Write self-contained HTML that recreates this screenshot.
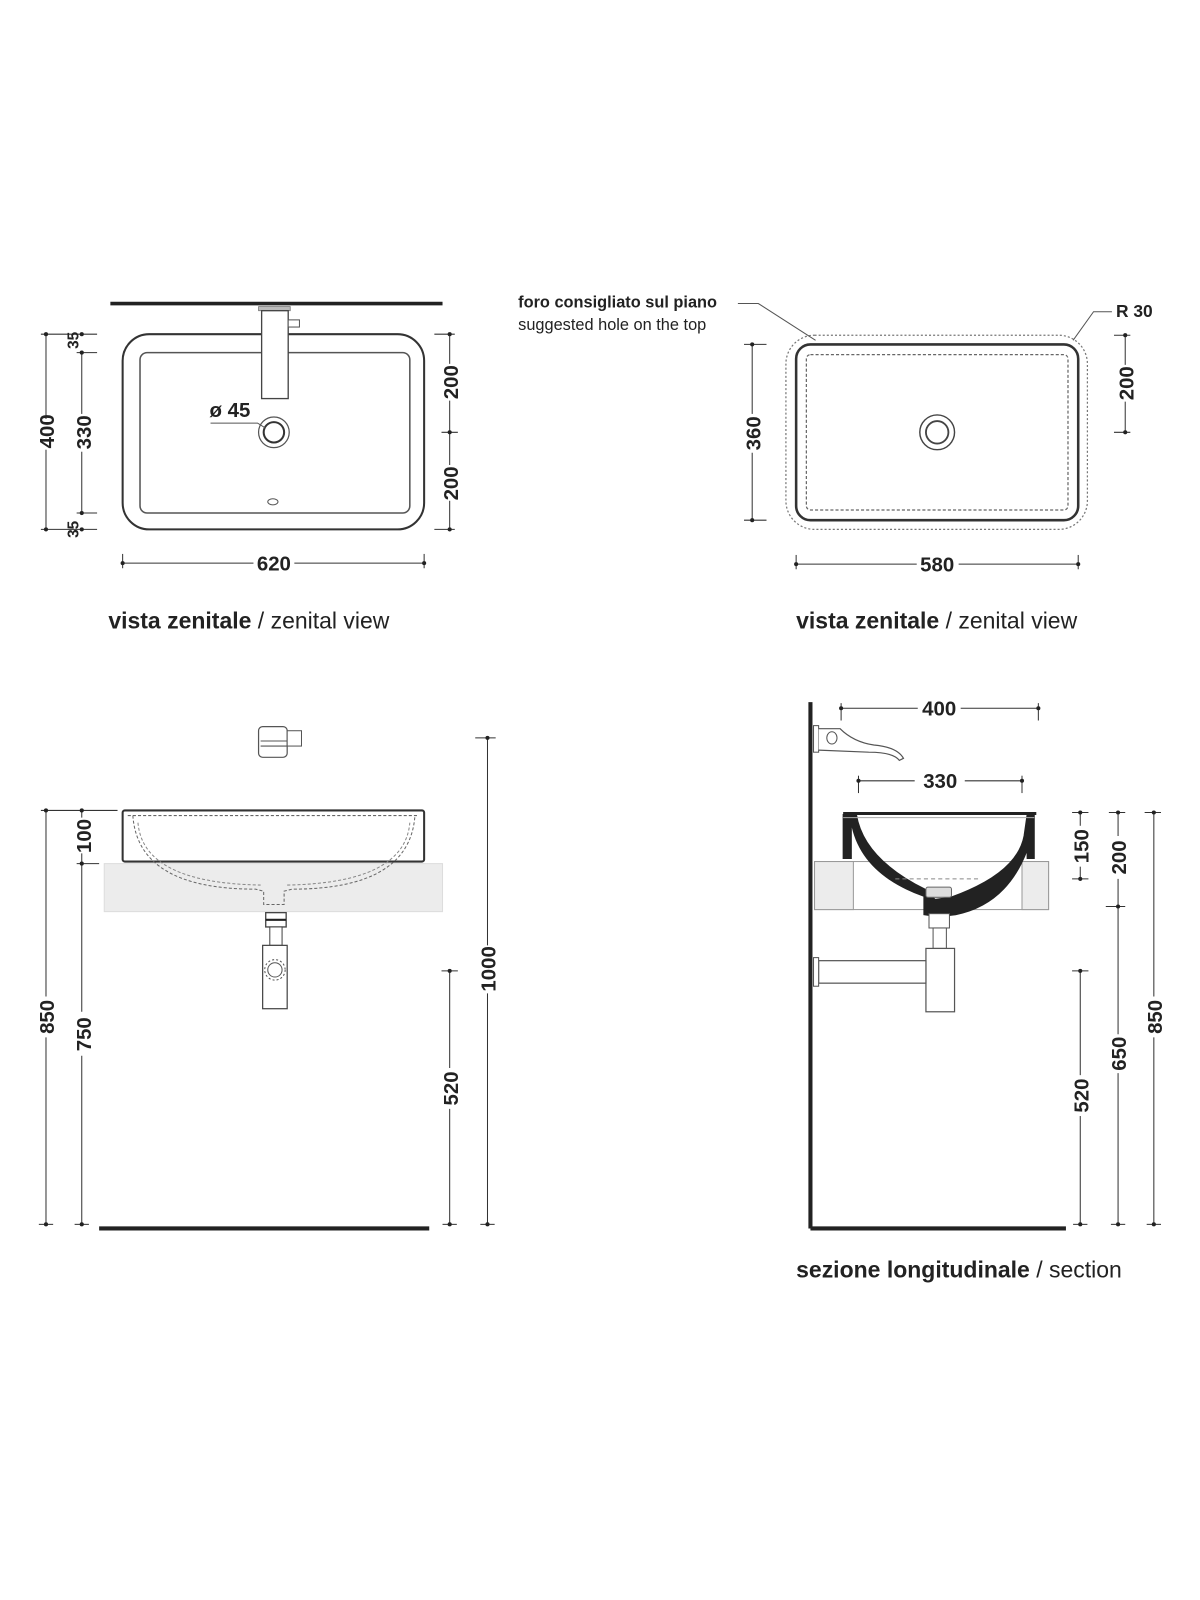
<!DOCTYPE html>
<html><head><meta charset="utf-8"><style>
html,body{margin:0;padding:0;background:#fff;}
svg{display:block;}
text{font-family:"Liberation Sans Narrow","Liberation Sans",sans-serif;fill:#222;}
.n{font-weight:bold;font-size:20px;}
.cap{font-size:22.5px;}
</style></head><body>
<svg width="1200" height="1600" viewBox="0 0 1200 1600" xmlns="http://www.w3.org/2000/svg">
<g transform="scale(1.022)" stroke-linecap="butt">
<!-- ===== TOP LEFT ===== -->
<line x1="108" y1="297" x2="433" y2="297" stroke="#222" stroke-width="3.5"/>
<rect x="120" y="327" width="295" height="191" rx="26" fill="none" stroke="#333" stroke-width="2"/>
<rect x="137" y="345" width="264" height="157" rx="7" fill="none" stroke="#555" stroke-width="1.5"/>
<rect x="253" y="300" width="31" height="4" fill="#bbb" stroke="#777" stroke-width="0.8"/>
<rect x="256" y="304" width="26" height="86" fill="#fff" stroke="#444" stroke-width="1.3"/>
<rect x="282" y="313" width="11" height="7" fill="#fff" stroke="#555" stroke-width="1"/>
<circle cx="268" cy="423" r="15" fill="none" stroke="#555" stroke-width="1.2"/>
<circle cx="268" cy="423" r="10" fill="none" stroke="#333" stroke-width="2"/>
<ellipse cx="267" cy="491" rx="5" ry="3" fill="none" stroke="#555" stroke-width="1"/>
<path d="M206 414 L252 414 L260 419" fill="none" stroke="#555" stroke-width="1"/>
<text class="n" x="205" y="408">ø 45</text>
<g stroke="#333" stroke-width="1" fill="none">
<line x1="45" y1="327" x2="45" y2="410"/><line x1="45" y1="440" x2="45" y2="518"/>
<line x1="80" y1="345" x2="80" y2="405"/><line x1="80" y1="442" x2="80" y2="502"/>
<line x1="40" y1="327" x2="95" y2="327"/><line x1="40" y1="518" x2="95" y2="518"/>
<line x1="75" y1="345" x2="95" y2="345"/><line x1="75" y1="502" x2="95" y2="502"/>
<line x1="440" y1="327" x2="440" y2="356"/><line x1="440" y1="392" x2="440" y2="455"/><line x1="440" y1="490" x2="440" y2="518"/>
<line x1="425" y1="327" x2="445" y2="327"/><line x1="432" y1="423" x2="448" y2="423"/><line x1="425" y1="518" x2="445" y2="518"/>
<line x1="120" y1="551" x2="248" y2="551"/><line x1="288" y1="551" x2="415" y2="551"/>
<line x1="120" y1="542" x2="120" y2="556"/><line x1="415" y1="542" x2="415" y2="556"/>
</g>
<g fill="#222"><circle cx="45" cy="327" r="2"/><circle cx="45" cy="518" r="2"/><circle cx="80" cy="327" r="2"/><circle cx="80" cy="345" r="2"/><circle cx="80" cy="502" r="2"/><circle cx="80" cy="518" r="2"/><circle cx="440" cy="327" r="2"/><circle cx="440" cy="423" r="2"/><circle cx="440" cy="518" r="2"/><circle cx="120" cy="551" r="2"/><circle cx="415" cy="551" r="2"/></g>
<text class="n" transform="translate(53,422) rotate(-90)" text-anchor="middle">400</text>
<text class="n" transform="translate(89,423) rotate(-90)" text-anchor="middle">330</text>
<text class="n" transform="translate(77,333) rotate(-90)" text-anchor="middle" style="font-size:15px">35</text>
<text class="n" transform="translate(77,518) rotate(-90)" text-anchor="middle" style="font-size:15px">35</text>
<text class="n" transform="translate(448,374) rotate(-90)" text-anchor="middle">200</text>
<text class="n" transform="translate(448,473) rotate(-90)" text-anchor="middle">200</text>
<text class="n" x="268" y="558" text-anchor="middle">620</text>
<text class="cap" x="106" y="615"><tspan font-weight="bold">vista zenitale</tspan> / zenital view</text>

<!-- ===== TOP RIGHT ===== -->
<rect x="769" y="328" width="295" height="190" rx="28" fill="none" stroke="#777" stroke-width="1.2" stroke-dasharray="2 2"/>
<rect x="779" y="337" width="276" height="172" rx="14" fill="none" stroke="#333" stroke-width="2.5"/>
<rect x="789" y="347" width="256" height="152" rx="4" fill="none" stroke="#666" stroke-width="1.2" stroke-dasharray="3 2"/>
<circle cx="917" cy="423" r="17" fill="none" stroke="#444" stroke-width="1.4"/>
<circle cx="917" cy="423" r="11" fill="none" stroke="#444" stroke-width="1.8"/>
<text x="507" y="301" style="font-weight:bold;font-size:16px">foro consigliato sul piano</text>
<text x="507" y="323" style="font-size:16px">suggested hole on the top</text>
<path d="M722 297 L742 297 L798 333" fill="none" stroke="#555" stroke-width="1"/>
<text x="1092" y="310" style="font-weight:bold;font-size:17px">R 30</text>
<path d="M1088 305 L1070 305 L1050 333" fill="none" stroke="#555" stroke-width="1"/>
<g stroke="#333" stroke-width="1" fill="none">
<line x1="736" y1="337" x2="736" y2="405"/><line x1="736" y1="443" x2="736" y2="509"/>
<line x1="728" y1="337" x2="750" y2="337"/><line x1="728" y1="509" x2="750" y2="509"/>
<line x1="1101" y1="328" x2="1101" y2="357"/><line x1="1101" y1="393" x2="1101" y2="423"/>
<line x1="1090" y1="328" x2="1106" y2="328"/><line x1="1090" y1="423" x2="1106" y2="423"/>
<line x1="779" y1="552" x2="897" y2="552"/><line x1="938" y1="552" x2="1055" y2="552"/>
<line x1="779" y1="543" x2="779" y2="557"/><line x1="1055" y1="543" x2="1055" y2="557"/>
</g>
<g fill="#222"><circle cx="736" cy="337" r="2"/><circle cx="736" cy="509" r="2"/><circle cx="1101" cy="328" r="2"/><circle cx="1101" cy="423" r="2"/><circle cx="779" cy="552" r="2"/><circle cx="1055" cy="552" r="2"/></g>
<text class="n" transform="translate(744,424) rotate(-90)" text-anchor="middle">360</text>
<text class="n" transform="translate(1109,375) rotate(-90)" text-anchor="middle">200</text>
<text class="n" x="917" y="559" text-anchor="middle">580</text>
<text class="cap" x="779" y="615"><tspan font-weight="bold">vista zenitale</tspan> / zenital view</text>

<!-- ===== BOTTOM LEFT ===== -->
<rect x="253" y="711" width="28" height="30" rx="4" fill="#fff" stroke="#555" stroke-width="1.2"/>
<rect x="281" y="715" width="14" height="15" fill="#fff" stroke="#555" stroke-width="1"/>
<line x1="255" y1="725" x2="281" y2="725" stroke="#555"/><line x1="255" y1="730" x2="281" y2="730" stroke="#555"/>
<rect x="102" y="845" width="331" height="47" fill="#ececec" stroke="#ddd" stroke-width="1"/>
<rect x="120" y="793" width="295" height="50" rx="2" fill="none" stroke="#333" stroke-width="2"/>
<path d="M130 798 Q135 870 250 870 L258 872 L258 885 L278 885 L278 872 L286 870 Q401 870 406 798" fill="none" stroke="#666" stroke-width="1" stroke-dasharray="3 2"/>
<path d="M125 798 L410 798" fill="none" stroke="#666" stroke-width="1" stroke-dasharray="3 2"/>
<path d="M135 805 Q140 864 255 866 M281 866 Q396 864 401 805" fill="none" stroke="#888" stroke-width="1" stroke-dasharray="3 2"/>
<rect x="260" y="893" width="20" height="14" fill="#fff" stroke="#444" stroke-width="1.3"/>
<line x1="260" y1="900" x2="280" y2="900" stroke="#222" stroke-width="2"/>
<rect x="264" y="907" width="12" height="18" fill="#fff" stroke="#444" stroke-width="1"/>
<rect x="257" y="925" width="24" height="62" fill="#fff" stroke="#444" stroke-width="1.2"/>
<circle cx="269" cy="949" r="10" fill="none" stroke="#555" stroke-dasharray="2 2"/>
<circle cx="269" cy="949" r="7" fill="none" stroke="#555"/>
<line x1="97" y1="1202" x2="420" y2="1202" stroke="#222" stroke-width="4"/>
<g stroke="#333" stroke-width="1" fill="none">
<line x1="45" y1="793" x2="45" y2="975"/><line x1="45" y1="1015" x2="45" y2="1198"/>
<line x1="40" y1="793" x2="115" y2="793"/>
<line x1="80" y1="793" x2="80" y2="800"/><line x1="80" y1="835" x2="80" y2="990"/><line x1="80" y1="1033" x2="80" y2="1198"/>
<line x1="75" y1="845" x2="97" y2="845"/>
<line x1="440" y1="950" x2="440" y2="1045"/><line x1="440" y1="1085" x2="440" y2="1198"/>
<line x1="432" y1="950" x2="448" y2="950"/>
<line x1="477" y1="722" x2="477" y2="925"/><line x1="477" y1="972" x2="477" y2="1198"/>
<line x1="465" y1="722" x2="485" y2="722"/>
<line x1="38" y1="1198" x2="52" y2="1198"/><line x1="73" y1="1198" x2="87" y2="1198"/><line x1="433" y1="1198" x2="447" y2="1198"/><line x1="470" y1="1198" x2="484" y2="1198"/>
</g>
<g fill="#222"><circle cx="45" cy="793" r="2"/><circle cx="80" cy="793" r="2"/><circle cx="80" cy="845" r="2"/><circle cx="440" cy="950" r="2"/><circle cx="477" cy="722" r="2"/><circle cx="45" cy="1198" r="2"/><circle cx="80" cy="1198" r="2"/><circle cx="440" cy="1198" r="2"/><circle cx="477" cy="1198" r="2"/></g>
<text class="n" transform="translate(53,995) rotate(-90)" text-anchor="middle">850</text>
<text class="n" transform="translate(89,818) rotate(-90)" text-anchor="middle">100</text>
<text class="n" transform="translate(89,1012) rotate(-90)" text-anchor="middle">750</text>
<text class="n" transform="translate(448,1065) rotate(-90)" text-anchor="middle">520</text>
<text class="n" transform="translate(485,948) rotate(-90)" text-anchor="middle">1000</text>

<!-- ===== BOTTOM RIGHT ===== -->
<rect x="797" y="843" width="229" height="47" fill="#fff" stroke="#999" stroke-width="1"/>
<rect x="797" y="843" width="38" height="47" fill="#ececec" stroke="#999" stroke-width="1"/>
<rect x="1000" y="843" width="26" height="47" fill="#ececec" stroke="#999" stroke-width="1"/>
<line x1="793" y1="687" x2="793" y2="1202" stroke="#222" stroke-width="4"/>
<line x1="793" y1="1202" x2="1043" y2="1202" stroke="#222" stroke-width="4"/>
<rect x="796" y="710" width="5" height="26" fill="#fff" stroke="#555"/>
<path d="M801 713 L822 713 Q835 726 855 729 Q878 731 884 742 L880 744 Q874 736 850 736 L801 734" fill="#fff" stroke="#555" stroke-width="1.2"/>
<ellipse cx="814" cy="722" rx="5" ry="6" fill="none" stroke="#555"/>
<path d="M825 797 L825 840 L833 840 L833 805 Q842 855 904 877 L904 895 L918 897 L935 895 Q985 885 1005 832 L1005 840 L1012 840 L1012 797 L1005 797 L1002 818 Q995 855 930 878 L915 880 L905 870 Q845 840 838 797 Z" fill="#222" stroke="#222" stroke-width="1"/>
<line x1="825" y1="796" x2="1014" y2="796" stroke="#222" stroke-width="3"/>
<line x1="825" y1="800" x2="1012" y2="800" stroke="#aaa" stroke-width="1"/>
<line x1="876" y1="860" x2="960" y2="860" stroke="#888" stroke-width="1" stroke-dasharray="4 3"/>
<rect x="906" y="868" width="25" height="10" rx="2" fill="#ddd" stroke="#666"/>
<rect x="909" y="894" width="20" height="14" fill="#fff" stroke="#555"/>
<rect x="913" y="908" width="13" height="20" fill="#fff" stroke="#555"/>
<rect x="906" y="928" width="28" height="62" fill="#fff" stroke="#555" stroke-width="1.2"/>
<rect x="801" y="940" width="105" height="22" fill="#fff" stroke="#555" stroke-width="1.2"/>
<rect x="796" y="937" width="5" height="28" fill="#fff" stroke="#555"/>
<g stroke="#333" stroke-width="1" fill="none">
<line x1="823" y1="693" x2="898" y2="693"/><line x1="940" y1="693" x2="1016" y2="693"/>
<line x1="823" y1="688" x2="823" y2="705"/><line x1="1016" y1="688" x2="1016" y2="705"/>
<line x1="840" y1="764" x2="895" y2="764"/><line x1="944" y1="764" x2="1000" y2="764"/>
<line x1="840" y1="759" x2="840" y2="776"/><line x1="1000" y1="759" x2="1000" y2="776"/>
<line x1="1057" y1="795" x2="1057" y2="808"/><line x1="1057" y1="848" x2="1057" y2="860"/>
<line x1="1049" y1="795" x2="1065" y2="795"/><line x1="1049" y1="860" x2="1065" y2="860"/>
<line x1="1094" y1="795" x2="1094" y2="818"/><line x1="1094" y1="860" x2="1094" y2="1012"/><line x1="1094" y1="1050" x2="1094" y2="1198"/>
<line x1="1085" y1="795" x2="1101" y2="795"/><line x1="1082" y1="887" x2="1101" y2="887"/>
<line x1="1057" y1="950" x2="1057" y2="1052"/><line x1="1057" y1="1092" x2="1057" y2="1198"/>
<line x1="1049" y1="950" x2="1065" y2="950"/>
<line x1="1129" y1="795" x2="1129" y2="975"/><line x1="1129" y1="1015" x2="1129" y2="1198"/>
<line x1="1120" y1="795" x2="1136" y2="795"/>
<line x1="1050" y1="1198" x2="1064" y2="1198"/><line x1="1087" y1="1198" x2="1101" y2="1198"/><line x1="1122" y1="1198" x2="1136" y2="1198"/>
</g>
<g fill="#222"><circle cx="823" cy="693" r="2"/><circle cx="1016" cy="693" r="2"/><circle cx="840" cy="764" r="2"/><circle cx="1000" cy="764" r="2"/><circle cx="1057" cy="795" r="2"/><circle cx="1057" cy="860" r="2"/><circle cx="1094" cy="795" r="2"/><circle cx="1094" cy="887" r="2"/><circle cx="1057" cy="950" r="2"/><circle cx="1129" cy="795" r="2"/><circle cx="1057" cy="1198" r="2"/><circle cx="1094" cy="1198" r="2"/><circle cx="1129" cy="1198" r="2"/></g>
<text class="n" x="919" y="700" text-anchor="middle">400</text>
<text class="n" x="920" y="771" text-anchor="middle">330</text>
<text class="n" transform="translate(1065,828) rotate(-90)" text-anchor="middle">150</text>
<text class="n" transform="translate(1102,839) rotate(-90)" text-anchor="middle">200</text>
<text class="n" transform="translate(1102,1031) rotate(-90)" text-anchor="middle">650</text>
<text class="n" transform="translate(1065,1072) rotate(-90)" text-anchor="middle">520</text>
<text class="n" transform="translate(1137,995) rotate(-90)" text-anchor="middle">850</text>
<text class="cap" x="779" y="1250"><tspan font-weight="bold">sezione longitudinale</tspan> / section</text>
</g>
</svg>
</body></html>
